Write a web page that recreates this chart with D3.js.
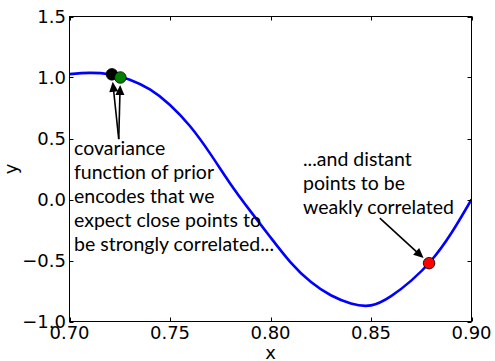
<!DOCTYPE html>
<html>
<head>
<meta charset="utf-8">
<script src="https://cdn.jsdelivr.net/npm/d3@7"></script>
<style>
  html, body { margin: 0; padding: 0; background: #fff; }
  svg { display: block; }
</style>
</head>
<body>
<svg id="chart" width="495" height="361"></svg>
<script>
// Sampled function values along x
const xs = [0.70, 0.71, 0.72, 0.73, 0.74, 0.75, 0.76, 0.77, 0.78, 0.79, 0.80,
            0.81, 0.82, 0.83, 0.84, 0.85, 0.86, 0.87, 0.88, 0.89, 0.90];
const ys = [1.028, 1.038, 1.026, 0.982, 0.902, 0.775, 0.600, 0.376, 0.130, -0.095, -0.310,
            -0.515, -0.675, -0.785, -0.852, -0.868, -0.792, -0.665, -0.500, -0.275, 0.000];

// Highlighted points
const pointX = [0.7211, 0.7253, 0.8789];
const pointY = [1.026, 1.000, -0.522];
const pointColor = ["#000000", "#008000", "#ff0000"];

// Axis ticks
const xTicks = [0.70, 0.75, 0.80, 0.85, 0.90];
const xTickLabels = ["0.70", "0.75", "0.80", "0.85", "0.90"];
const yTicks = [-1.0, -0.5, 0.0, 0.5, 1.0, 1.5];
const yTickLabels = ["\u22121.0", "\u22120.5", "0.0", "0.5", "1.0", "1.5"];

// Annotation texts
const leftNote = ["covariance", "function of prior", "encodes that we",
                  "expect close points to", "be strongly correlated..."];
const rightNote = ["...and distant", "points to be", "weakly correlated"];
// Arrow tails (data coords) and the point each arrow targets
const arrowTailX = [0.7245, 0.7245, 0.8544];
const arrowTailY = [0.495, 0.495, -0.153];
const arrowTarget = [0, 1, 2];

const svg = d3.select("#chart");
const plotL = 69.5, plotR = 471.5, plotT = 16.5, plotB = 321.5;

const x = d3.scaleLinear().domain([0.70, 0.90]).range([plotL, plotR]);
const y = d3.scaleLinear().domain([-1.0, 1.5]).range([plotB, plotT]);

svg.append("defs").append("clipPath").attr("id", "plotclip")
  .append("rect").attr("x", plotL).attr("y", plotT)
  .attr("width", plotR - plotL).attr("height", plotB - plotT);

// Curve
const line = d3.line()
  .x((d, i) => x(xs[i]))
  .y((d, i) => y(ys[i]))
  .curve(d3.curveNatural);

svg.append("path")
  .attr("clip-path", "url(#plotclip)")
  .attr("d", line(xs))
  .attr("fill", "none")
  .attr("stroke", "#0000ff")
  .attr("stroke-width", 2.6);

// Frame
svg.append("rect")
  .attr("x", plotL).attr("y", plotT)
  .attr("width", plotR - plotL).attr("height", plotB - plotT)
  .attr("fill", "none").attr("stroke", "#000").attr("stroke-width", 1);

// Inward ticks on all four sides
const tl = 4;
const tickG = svg.append("g").attr("stroke", "#000").attr("stroke-width", 1);
xTicks.forEach(t => {
  const px = Math.round(x(t)) + 0.5;
  tickG.append("line").attr("x1", px).attr("x2", px).attr("y1", plotB).attr("y2", plotB - tl);
  tickG.append("line").attr("x1", px).attr("x2", px).attr("y1", plotT).attr("y2", plotT + tl);
});
yTicks.forEach(t => {
  const py = Math.round(y(t)) + 0.5;
  tickG.append("line").attr("x1", plotL).attr("x2", plotL + tl).attr("y1", py).attr("y2", py);
  tickG.append("line").attr("x1", plotR).attr("x2", plotR - tl).attr("y1", py).attr("y2", py);
});

const tickFont = "'DejaVu Sans', sans-serif";
const tickSize = 18;

svg.append("g").selectAll("text").data(xTicks).join("text")
  .attr("x", d => x(d))
  .attr("y", 339)
  .attr("text-anchor", "middle")
  .attr("font-family", tickFont).attr("font-size", tickSize)
  .attr("fill", "#000")
  .text((d, i) => xTickLabels[i]);

svg.append("g").selectAll("text").data(yTicks).join("text")
  .attr("x", plotL - 3.5)
  .attr("y", d => y(d) + 6.4)
  .attr("text-anchor", "end")
  .attr("font-family", tickFont).attr("font-size", tickSize)
  .attr("fill", "#000")
  .text((d, i) => yTickLabels[i]);

// Axis labels
svg.append("text")
  .attr("x", (plotL + plotR) / 2).attr("y", 359)
  .attr("text-anchor", "middle")
  .attr("font-family", tickFont).attr("font-size", tickSize)
  .text("x");
svg.append("text")
  .attr("transform", `translate(17,${(plotT + plotB) / 2}) rotate(-90)`)
  .attr("text-anchor", "middle")
  .attr("font-family", tickFont).attr("font-size", tickSize)
  .text("y");

// Annotation text blocks
const noteFont = "Lato, 'Open Sans', sans-serif";
function note(lines, px, py) {
  const t = svg.append("text")
    .attr("font-family", noteFont).attr("font-size", 19.5)
    .attr("fill", "#000");
  lines.forEach((s, i) => {
    t.append("tspan").attr("x", px).attr("y", py + i * 24).text(s);
  });
}
note(leftNote, 74, 155);
note(rightNote, 303, 165.5);

// Arrows from the notes to the points
const arrowG = svg.append("g");
arrowTarget.forEach((pi, k) => {
  const x0 = x(arrowTailX[k]), y0 = y(arrowTailY[k]);
  const cx = x(pointX[pi]), cy = y(pointY[pi]);
  const dx = cx - x0, dy = cy - y0;
  const len = Math.hypot(dx, dy);
  const ux = dx / len, uy = dy / len;
  const shrink = 7.5, head = 10, hw = 4.5;
  const tx = cx - ux * shrink, ty = cy - uy * shrink;
  const bx = tx - ux * head, by = ty - uy * head;
  arrowG.append("line")
    .attr("x1", x0).attr("y1", y0).attr("x2", bx + ux).attr("y2", by + uy)
    .attr("stroke", "#000").attr("stroke-width", 1.6);
  arrowG.append("path")
    .attr("d", `M${tx},${ty}L${bx - uy * hw},${by + ux * hw}L${bx + uy * hw},${by - ux * hw}Z`)
    .attr("fill", "#000");
});

// Points
svg.append("g").selectAll("circle").data(pointX).join("circle")
  .attr("cx", d => x(d))
  .attr("cy", (d, i) => y(pointY[i]))
  .attr("r", 5.8)
  .attr("fill", (d, i) => pointColor[i])
  .attr("stroke", "#000").attr("stroke-width", 0.8);
</script>
</body>
</html>
